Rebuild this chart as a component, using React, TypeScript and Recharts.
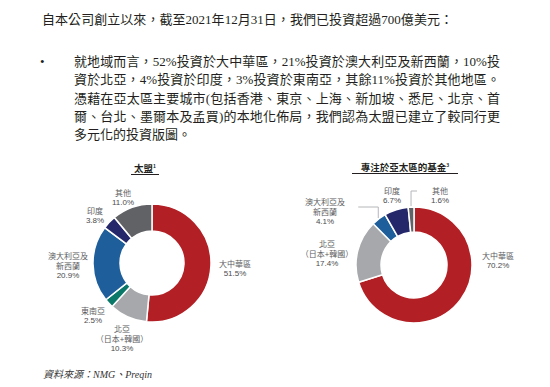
import { PieChart, Pie, Cell } from 'recharts';

const apacCategories = ['大中華區', '北亞', '東南亞', '澳大利亞及新西蘭', '印度', '其他'];
const apacValues = [51.5, 10.3, 2.5, 20.9, 3.8, 11.0];
const apacColors = ['#b21f24', '#a6a8ab', '#0a7868', '#1d5e9b', '#24286b', '#616265'];

const fundCategories = ['大中華區', '北亞', '澳大利亞及新西蘭', '印度', '其他'];
const fundValues = [70.2, 17.4, 4.1, 6.7, 1.6];
const fundColors = ['#b21f24', '#a6a8ab', '#1d5e9b', '#24286b', '#616265'];

const labelLines: Record<string, string[]> = {
  '北亞': ['北亞', '（日本+韓國）'],
  '澳大利亞及新西蘭': ['澳大利亞及', '新西蘭'],
};

// label block centre, relative to the pie centre
const apacLabelOffsets = [[83, 5], [-30, 75], [-59, 52], [-84, 2], [-57, -48], [-29, -66]];
const fundLabelOffsets = [[84, -5], [-87, -12], [-89, -54], [-22, -70], [26, -70]];
// horizontal leader length from the slice edge
const fundLeaders: Record<string, number> = { '澳大利亞及新西蘭': -20, '其他': 6 };

const introLine = '自本公司創立以來，截至2021年12月31日，我們已投資超過700億美元：';
const bulletLines = [
  '就地域而言，52%投資於大中華區，21%投資於澳大利亞及新西蘭，10%投',
  '資於北亞，4%投資於印度，3%投資於東南亞，其餘11%投資於其他地區。',
  '憑藉在亞太區主要城市(包括香港、東京、上海、新加坡、悉尼、北京、首',
  '爾、台北、墨爾本及孟買)的本地化佈局，我們認為太盟已建立了較同行更',
  '多元化的投資版圖。',
];

const apacData = apacCategories.map((name, i) => ({ name, value: apacValues[i] }));
const fundData = fundCategories.map((name, i) => ({ name, value: fundValues[i] }));

const serif = '"Liberation Serif", "Noto Sans CJK TC", serif';
const cjk = '"Noto Sans CJK TC", sans-serif';
const RAD = Math.PI / 180;

function makeLabel(offsets: number[][], leaders: Record<string, number> = {}) {
  return (props: any) => {
    const { cx, cy, midAngle, outerRadius, index, name, value } = props;
    const [dx, dy] = offsets[index];
    const lines = labelLines[name] ?? [name];
    const lh = 10;
    const count = lines.length + 1;
    const top = cy + dy - ((count - 1) * lh) / 2;
    const x = cx + dx;
    let leader = null;
    if (leaders[name] !== undefined) {
      const px = cx + (outerRadius + 1) * Math.cos(-midAngle * RAD);
      const py = cy + (outerRadius + 1) * Math.sin(-midAngle * RAD);
      const hy = cy + dy - 4;
      leader = (
        <polyline
          points={`${px + leaders[name]},${hy} ${px},${hy} ${px},${py}`}
          fill="none"
          stroke="#b5b6b8"
          strokeWidth={1}
        />
      );
    }
    return (
      <g>
        {leader}
        {lines.map((t, i) => (
          <text key={i} x={x} y={top + i * lh} textAnchor="middle" dominantBaseline="central"
            fontFamily={cjk} fontSize={8} fill="#5b5c5e">{t}</text>
        ))}
        <text x={x} y={top + lines.length * lh} textAnchor="middle" dominantBaseline="central"
          fontFamily='"Liberation Sans", Arial, sans-serif' fontSize={8} fill="#4a4b4d">
          {`${value.toFixed(1)}%`}
        </text>
      </g>
    );
  };
}

export default function App() {
  return (
    <div style={{ position: 'absolute', left: 0, top: 0, width: 550, height: 387, background: '#fff', overflow: 'hidden', color: '#231f20' }}>
      <div style={{ position: 'absolute', left: 0, top: 0 }}>
        <PieChart width={550} height={387}>
          <Pie data={apacData} dataKey="value" nameKey="name" cx={147} cy={258} innerRadius={32} outerRadius={59}
            startAngle={90} endAngle={-270} stroke="#fff" strokeWidth={1.5} isAnimationActive={false}
            labelLine={false} label={makeLabel(apacLabelOffsets)}>
            {apacData.map((d, i) => <Cell key={d.name} fill={apacColors[i]} />)}
          </Pie>
          <Pie data={fundData} dataKey="value" nameKey="name" cx={409} cy={260} innerRadius={33} outerRadius={58}
            startAngle={90} endAngle={-270} stroke="#fff" strokeWidth={1.5} isAnimationActive={false}
            labelLine={false} label={makeLabel(fundLabelOffsets, fundLeaders)}>
            {fundData.map((d, i) => <Cell key={d.name} fill={fundColors[i]} />)}
          </Pie>
        </PieChart>
      </div>

      <div style={{ position: 'absolute', left: 42, top: 11, fontFamily: serif, fontSize: 13, lineHeight: '18px', width: 411, textAlign: 'justify', textAlignLast: 'justify', whiteSpace: 'nowrap' }}>
        {introLine}
      </div>
      <div style={{ position: 'absolute', left: 40, top: 53, fontFamily: serif, fontSize: 13, lineHeight: '18px' }}>•</div>
      {bulletLines.map((line, i) => (
        <div key={i} style={{
          position: 'absolute', left: 74, top: 53 + i * 18.3, width: 426, fontFamily: serif, fontSize: 13,
          lineHeight: '18px', whiteSpace: 'nowrap', textAlign: 'justify',
          textAlignLast: i < bulletLines.length - 1 ? 'justify' : 'left',
        }}>{line}</div>
      ))}

      <div style={{ position: 'absolute', left: 131, width: 28, top: 160, textAlign: 'center', fontFamily: cjk, fontWeight: 700, fontSize: 9.5, lineHeight: '12px', borderBottom: '1px solid #231f20' }}>
        太盟<sup style={{ fontSize: 5 }}>1</sup>
      </div>
      <div style={{ position: 'absolute', left: 352, width: 106, top: 159, textAlign: 'center', fontFamily: cjk, fontWeight: 700, fontSize: 9.5, lineHeight: '12px', borderBottom: '1px solid #231f20' }}>
        專注於亞太區的基金<sup style={{ fontSize: 5 }}>3</sup>
      </div>

      <div style={{ position: 'absolute', left: 43, top: 368, fontFamily: serif, fontStyle: 'italic', fontSize: 10, lineHeight: '14px', color: '#333' }}>
        資料來源：NMG、Preqin
      </div>
    </div>
  );
}
